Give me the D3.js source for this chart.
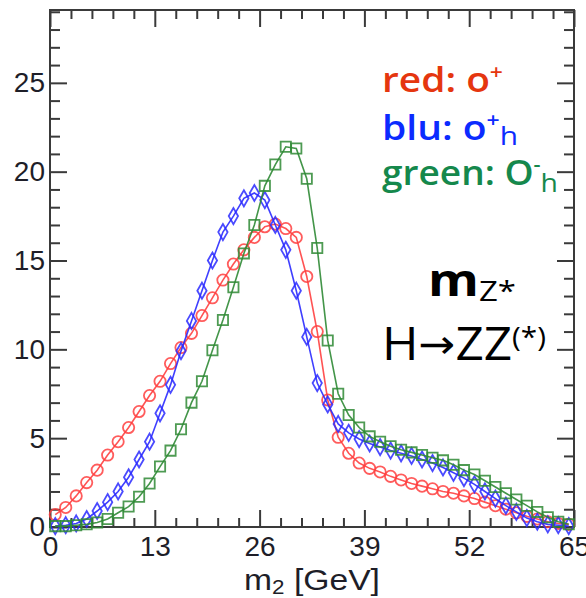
<!DOCTYPE html>
<html>
<head>
<meta charset="utf-8">
<script src="https://cdn.jsdelivr.net/npm/d3@7"></script>
<style>
  body { margin: 0; background: #fff; }
  svg { display: block; }
</style>
</head>
<body>
<div class="center"></div>
<script>
// bin centres of m2 [GeV], 50 bins of 1.3 GeV
const massBins = [0.65, 1.95, 3.25, 4.55, 5.85, 7.15, 8.45, 9.75, 11.05, 12.35,
  13.65, 14.95, 16.25, 17.55, 18.85, 20.15, 21.45, 22.75, 24.05, 25.35,
  26.65, 27.95, 29.25, 30.55, 31.85, 33.15, 34.45, 35.75, 37.05, 38.35,
  39.65, 40.95, 42.25, 43.55, 44.85, 46.15, 47.45, 48.75, 50.05, 51.35,
  52.65, 53.95, 55.25, 56.55, 57.85, 59.15, 60.45, 61.75, 63.05, 64.35];

// red: 0+
const redVals = [0.7, 1.1, 1.75, 2.5, 3.2, 4.05, 4.8, 5.6, 6.5, 7.4,
  8.2, 9.2, 10.1, 10.9, 11.9, 12.9, 13.9, 14.8, 15.6, 16.3,
  16.9, 17.05, 16.8, 16.3, 14.1, 11.0, 7.15, 5.05, 4.15, 3.6,
  3.3, 3.1, 2.85, 2.65, 2.45, 2.3, 2.15, 2.0, 1.9, 1.75,
  1.6, 1.4, 1.2, 1.0, 0.8, 0.6, 0.45, 0.3, 0.2, 0.15];

// blue: 0+h
const bluVals = [0.05, 0.1, 0.2, 0.45, 0.9, 1.4, 2.0, 2.8, 3.8, 4.8,
  6.4, 8.0, 9.9, 11.6, 13.3, 15.0, 16.6, 17.5, 18.5, 18.8,
  18.4, 17.0, 15.6, 13.3, 10.7, 8.1, 6.9, 5.8, 5.3, 4.95,
  4.7, 4.5, 4.3, 4.15, 4.0, 3.8, 3.6, 3.35, 3.05, 2.75,
  2.4, 2.0, 1.6, 1.2, 0.85, 0.5, 0.3, 0.15, 0.1, 0.05];

// green: 0-h
const greenVals = [0.05, 0.05, 0.1, 0.15, 0.25, 0.45, 0.8, 1.15, 1.7, 2.45,
  3.4, 4.3, 5.5, 7.0, 8.2, 9.95, 11.65, 13.5, 15.4, 17.0,
  19.2, 20.4, 21.4, 21.3, 19.6, 15.7, 10.5, 7.5, 6.3, 5.6,
  5.1, 4.8, 4.55, 4.35, 4.2, 4.05, 3.9, 3.75, 3.5, 3.2,
  2.95, 2.6, 2.25, 1.9, 1.55, 1.2, 0.85, 0.55, 0.3, 0.15];

const xMajorTicks = [0, 13, 26, 39, 52, 65];
const yMajorTicks = [0, 5, 10, 15, 20, 25];

const W = 586, H = 598;
const margin = {top: 10, right: 12, bottom: 71, left: 50};
const width = W - margin.left - margin.right;
const height = H - margin.top - margin.bottom;

const xScale = d3.scaleLinear().domain([0, 65]).range([0, width]);
const yScale = d3.scaleLinear().domain([0, 29.1]).range([height, 0]);

const svg = d3.select(".center").append("svg")
  .attr("width", W).attr("height", H);
const g = svg.append("g")
  .attr("transform", `translate(${margin.left},${margin.top})`);

// minor tick values
const xMinor = d3.range(0, 65.01, 2.6).filter(v => !xMajorTicks.some(t => Math.abs(t - v) < 0.01));
const yMinor = d3.range(0, 29.01, 1).filter(v => v % 5 !== 0);

const axisColor = "#3a3a3a";
const tickFont = "'Liberation Sans', Arial, sans-serif";

function styleAxis(sel) {
  sel.select(".domain").remove();
  sel.selectAll(".tick line").attr("stroke", axisColor).attr("stroke-width", 2);
  sel.selectAll(".tick text")
    .attr("fill", "#1e1e28")
    .style("font-family", tickFont)
    .style("font-size", "28px");
}

// bottom
g.append("g").attr("transform", `translate(0,${height})`)
  .call(d3.axisBottom(xScale).tickValues(xMajorTicks).tickSize(-17).tickPadding(9).tickFormat(d3.format("d")))
  .call(styleAxis);
g.append("g").attr("transform", `translate(0,${height})`)
  .call(d3.axisBottom(xScale).tickValues(xMinor).tickSize(-9).tickFormat(""))
  .call(styleAxis);
// top
g.append("g")
  .call(d3.axisTop(xScale).tickValues(xMajorTicks).tickSize(-17).tickFormat(""))
  .call(styleAxis);
g.append("g")
  .call(d3.axisTop(xScale).tickValues(xMinor).tickSize(-9).tickFormat(""))
  .call(styleAxis);
// left
g.append("g")
  .call(d3.axisLeft(yScale).tickValues(yMajorTicks).tickSize(-17).tickPadding(5).tickFormat(d3.format("d")))
  .call(styleAxis);
g.append("g")
  .call(d3.axisLeft(yScale).tickValues(yMinor).tickSize(-10).tickFormat(""))
  .call(styleAxis);
// right
g.append("g").attr("transform", `translate(${width},0)`)
  .call(d3.axisRight(yScale).tickValues(yMajorTicks).tickSize(-17).tickFormat(""))
  .call(styleAxis);
g.append("g").attr("transform", `translate(${width},0)`)
  .call(d3.axisRight(yScale).tickValues(yMinor).tickSize(-10).tickFormat(""))
  .call(styleAxis);

// frame
g.append("rect")
  .attr("x", 0).attr("y", 0).attr("width", width).attr("height", height)
  .attr("fill", "none").attr("stroke", axisColor).attr("stroke-width", 2);

// series
const series = [
  {vals: redVals, color: "#ff4040", symbol: d3.symbolCircle, size: 100},
  {vals: bluVals, color: "#2a2aff", symbol: d3.symbolDiamond, size: 75},
  {vals: greenVals, color: "#2f8a35", symbol: d3.symbolSquare, size: 105}
];

const valueline = d3.line()
  .x(d => xScale(d[0]))
  .y(d => yScale(d[1]));

series.forEach(s => {
  const pts = massBins.map((m, i) => [m, s.vals[i]]);
  g.append("path")
    .datum(pts)
    .attr("d", valueline)
    .attr("fill", "none")
    .attr("stroke", s.color)
    .attr("stroke-width", 1.6)
    .attr("opacity", 0.9);
  g.selectAll(null)
    .data(pts)
    .enter().append("path")
    .attr("transform", d => `translate(${xScale(d[0])},${yScale(d[1])})`)
    .attr("d", d3.symbol().type(s.symbol).size(s.size))
    .attr("fill", "none")
    .attr("stroke", s.color)
    .attr("stroke-width", 1.8)
    .attr("opacity", 0.85);
});

// helper: put a text block at (x, baseline) and stretch it to a given width
function fitText(x, y, targetW, build) {
  const grp = svg.append("g").attr("transform", `translate(${x},${y})`);
  const t = grp.append("text").attr("x", 0).attr("y", 0);
  build(t);
  const w = t.node().getBBox().width;
  grp.attr("transform", `translate(${x},${y}) scale(${targetW / w},1)`);
  return t;
}

const legFont = "'Open Sans', 'Noto Sans', sans-serif";

fitText(382, 92, 121, t => {
  t.style("font-family", legFont).style("font-size", "34px").style("font-weight", 600).attr("fill", "#e5360f");
  t.append("tspan").text("red: o");
  t.append("tspan").attr("dy", -13).style("font-size", "20px").text("+");
});
fitText(382, 140, 136, t => {
  t.style("font-family", legFont).style("font-size", "34px").style("font-weight", 600).attr("fill", "#0b2bff");
  t.append("tspan").text("blu: o");
  t.append("tspan").attr("dy", -13).style("font-size", "20px").text("+");
  t.append("tspan").attr("dy", 18).style("font-size", "26px").style("font-weight", 400).text("h");
});
fitText(382, 185, 176, t => {
  t.style("font-family", legFont).style("font-size", "34px").style("font-weight", 600).attr("fill", "#15884c");
  t.append("tspan").text("green: O");
  t.append("tspan").attr("dy", -14).style("font-size", "20px").text("-");
  t.append("tspan").attr("dy", 21).style("font-size", "26px").style("font-weight", 400).text("h");
});

// m_Z*
fitText(428, 296, 88, t => {
  t.style("font-family", legFont).attr("fill", "#000");
  t.append("tspan").style("font-size", "44px").style("font-weight", 700).text("m");
  t.append("tspan").attr("dy", 5).style("font-size", "28px").style("font-weight", 400).text("Z*");
});

// H -> ZZ(*)
fitText(382, 360, 164, t => {
  t.style("font-family", legFont).style("font-size", "45px").attr("fill", "#000");
  t.append("tspan").text("H");
  t.append("tspan").style("font-family", "'DejaVu Sans', sans-serif").style("font-size", "40px").attr("dy", -2).text("\u2192");
  t.append("tspan").attr("dy", 2).text("ZZ");
  t.append("tspan").attr("dy", -13).style("font-size", "27px").text("(*)");
});

// x axis title
fitText(244, 590, 136, t => {
  t.style("font-family", tickFont).style("font-size", "30px").attr("fill", "#1e1e28");
  t.append("tspan").text("m");
  t.append("tspan").attr("dy", 4).style("font-size", "20px").text("2");
  t.append("tspan").attr("dy", -4).text(" [GeV]");
});
</script>
</body>
</html>
